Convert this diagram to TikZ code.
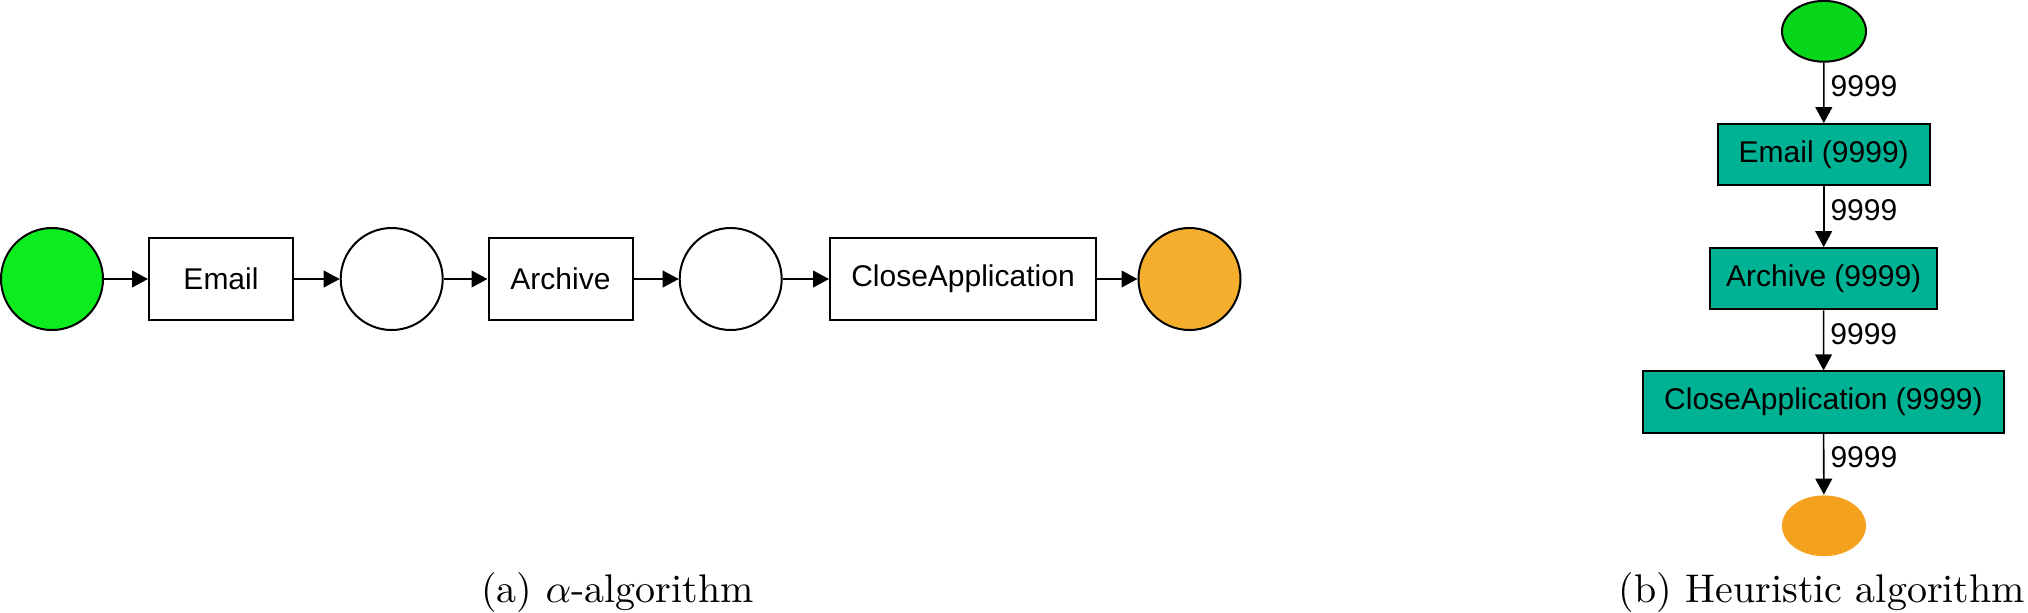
\documentclass[tikz,border=0pt]{standalone}
\usepackage{fontspec}
\newfontfamily\arialfont{Liberation Sans}
\usetikzlibrary{arrows.meta,shapes.geometric}
\definecolor{startgreen}{RGB}{12,236,30}
\definecolor{endorange}{RGB}{245,174,46}
\definecolor{hgreen}{RGB}{8,214,26}
\definecolor{hteal}{RGB}{0,178,148}
\definecolor{horange}{RGB}{244,162,30}
\begin{document}
\begin{tikzpicture}[x=0.25pt,y=-0.25pt,
  lab/.style={font=\arialfont\fontsize{7.5}{9}\selectfont},
  place/.style={circle, draw=black, line width=0.5pt, minimum size=25.5pt, inner sep=0pt},
  trans/.style={rectangle, draw=black, line width=0.5pt, minimum height=20.5pt, inner sep=0pt, lab},
  flow/.style={-{Triangle[length=4pt,width=4.2pt]}, line width=0.4pt},
  hbox/.style={rectangle, draw=black, fill=hteal, line width=0.5pt, minimum height=15.3pt, inner sep=0pt, lab},
  hell/.style={ellipse, minimum width=21pt, minimum height=15.2pt, inner sep=0pt},
  lbl/.style={anchor=west, inner sep=0pt, xshift=1.5pt, lab},
  captext/.style={anchor=base, inner sep=0pt, font=\fontsize{10}{12}\selectfont}
]
\useasboundingbox (0,0) rectangle (2028,612);

% (a) alpha-algorithm
\node[place, fill=startgreen] (s) at (52,279) {};
\node[trans, minimum width=36pt] (e) at (221,279) {Email};
\node[place, fill=white] (p1) at (391.7,279) {};
\node[trans, minimum width=36pt] (a) at (560.5,279) {Archive};
\node[place, fill=white] (p2) at (730.7,279) {};
\node[trans, minimum width=66.5pt] (c) at (963,279) {CloseApplication};
\node[place, fill=endorange] (t) at (1189.5,279) {};
\draw[flow] (s) -- (e);
\draw[flow] (e) -- (p1);
\draw[flow] (p1) -- (a);
\draw[flow] (a) -- (p2);
\draw[flow] (p2) -- (c);
\draw[flow] (c) -- (t);

% (b) heuristic
\node[hell, draw=black, line width=0.5pt, fill=hgreen] (hs) at (1824,31.3) {};
\node[hbox, minimum width=53.1pt] (he) at (1823.7,154.7) {Email (9999)};
\node[hbox, minimum width=56.7pt] (ha) at (1823.7,278.7) {Archive (9999)};
\node[hbox, minimum width=90.4pt] (hc) at (1823.5,402) {CloseApplication (9999)};
\node[hell, fill=horange] (ht) at (1824,525.8) {};
\draw[flow] (hs) -- node[lbl, pos=0.39] (l1) {9999} (he);
\draw[flow] (he) -- node[lbl, pos=0.39] (l2) {9999} (ha);
\draw[flow] (ha) -- node[lbl, pos=0.39] (l3) {9999} (hc);
\draw[flow] (hc) -- node[lbl, pos=0.39] (l4) {9999} (ht);

% captions
\node[captext] (capa) at (617.4,602) {(a) $\alpha$-algorithm};
\node[captext] (capb) at (1822,602) {(b) Heuristic algorithm};
\end{tikzpicture}
\end{document}
